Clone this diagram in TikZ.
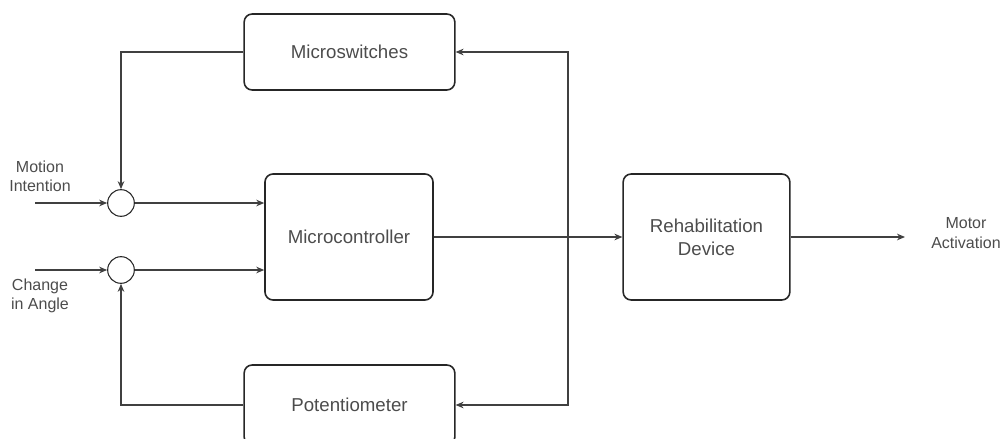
\documentclass[tikz,border=0pt]{standalone}
\usepackage{fontspec}
\setmainfont{Liberation Sans}
\usetikzlibrary{arrows.meta}

\begin{document}
\begin{tikzpicture}[x=0.75pt,y=-0.75pt,
	block/.style={draw=black!85, rounded corners=6pt, line width=1.2pt, text=black!70,
		font=\fontsize{14}{17}\selectfont, align=center, inner sep=0pt},
	sum/.style={draw=black!85, circle, minimum size=20pt, inner sep=0pt, line width=0.8pt},
	lbl/.style={text=black!70, font=\fontsize{12}{14.5}\selectfont, align=center},
	wire/.style={draw=black!75, line width=0.8pt, -{Stealth[length=6pt,width=5pt]}}]

	\useasboundingbox (0,0) rectangle (1001,439);
	\clip (0,0) rectangle (1001,439);

	\node[block, minimum width=158pt, minimum height=57pt] (switch) at (349.5,52) {Microswitches};
	\node[block, minimum width=126pt, minimum height=94.5pt] (mcu) at (349,237) {Microcontroller};
	\node[block, minimum width=158pt, minimum height=60pt] (pot) at (349.5,405) {Potentiometer};
	\node[block, minimum width=125pt, minimum height=94.5pt] (rehab) at (706.5,237) {Rehabilitation\\Device};

	\node[sum] (s1) at (121,203) {};
	\node[sum] (s2) at (121,270) {};

	\node[lbl] (mi) at (40,176) {Motion\\Intention};
	\node[lbl] (ca) at (40,296) {Change\\in Angle};
	\node[lbl] (ma) at (966,233) {Motor\\Activation};

	\coordinate (in1) at (35,203);
	\coordinate (in2) at (35,270);
	\coordinate (out) at (905,237);
	\coordinate (fb) at (568,237);

	\draw[wire] (in1) -- (s1);
	\draw[wire] (in2) -- (s2);
	\draw[wire] (s1) -- (s1 -| mcu.west);
	\draw[wire] (s2) -- (s2 -| mcu.west);
	\draw[wire] (switch.west) -| (s1);
	\draw[wire] (pot.west) -| (s2);
	\draw[wire] (mcu.east) -- (rehab.west);
	\draw[wire] (rehab.east) -- (out);
	\draw[wire, {Stealth[length=6pt,width=5pt]}-{Stealth[length=6pt,width=5pt]}] (switch.east) -| (fb) |- (pot.east);

\end{tikzpicture}
\end{document}
